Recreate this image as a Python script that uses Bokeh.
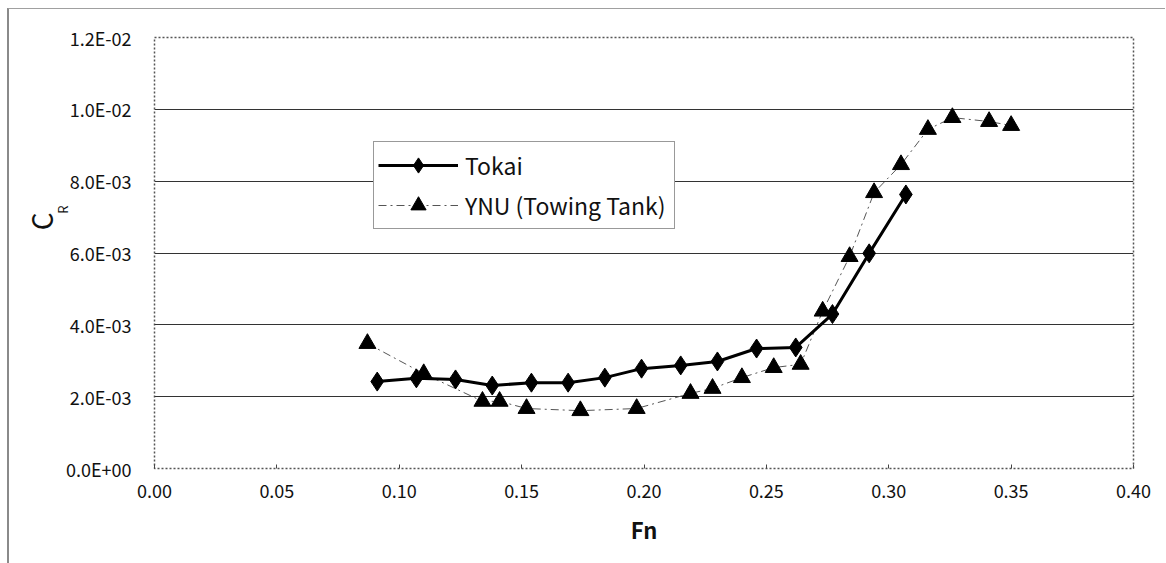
from bokeh.plotting import figure
from bokeh.models import Range1d, FixedTicker, Legend, LegendItem, Title
from bokeh.embed import file_html
from bokeh.resources import INLINE

# ---- data ----
tokai_fn = [0.091, 0.107, 0.123, 0.138, 0.154, 0.169, 0.184, 0.199, 0.215, 0.230, 0.246, 0.262, 0.277, 0.292, 0.307]
tokai_cr = [2.42e-3, 2.51e-3, 2.48e-3, 2.31e-3, 2.39e-3, 2.39e-3, 2.53e-3, 2.78e-3, 2.87e-3, 2.98e-3,
            3.34e-3, 3.37e-3, 4.30e-3, 5.99e-3, 7.63e-3]
ynu_fn = [0.087, 0.110, 0.134, 0.141, 0.152, 0.174, 0.197, 0.219, 0.228, 0.240, 0.253, 0.264,
          0.273, 0.284, 0.294, 0.305, 0.316, 0.326, 0.341, 0.350]
ynu_cr = [3.48e-3, 2.64e-3, 1.87e-3, 1.87e-3, 1.67e-3, 1.61e-3, 1.67e-3, 2.09e-3, 2.23e-3, 2.53e-3,
          2.81e-3, 2.90e-3, 4.38e-3, 5.90e-3, 7.68e-3, 8.46e-3, 9.44e-3, 9.77e-3, 9.66e-3, 9.55e-3]
x_ticks = [0.00, 0.05, 0.10, 0.15, 0.20, 0.25, 0.30, 0.35, 0.40]
x_tick_labels = ["0.00", "0.05", "0.10", "0.15", "0.20", "0.25", "0.30", "0.35", "0.40"]
y_ticks = [0.0, 0.002, 0.004, 0.006, 0.008, 0.010, 0.012]
y_tick_labels = ["0.0E+00", "2.0E-03", "4.0E-03", "6.0E-03", "8.0E-03", "1.0E-02", "1.2E-02"]

FONT = "Noto Sans CJK JP"

p = figure(width=1158, height=555, output_backend="svg", toolbar_location=None,
           x_range=Range1d(0, 0.40), y_range=Range1d(0, 0.012),
           min_border_left=145, min_border_right=34, min_border_top=28, min_border_bottom=96)
p.styles = {"margin-left": "7px", "margin-top": "8px",
            "border-left": "2px solid #8a8a8a", "border-top": "1px solid #a0a0a0"}

p.background_fill_color = "white"
p.border_fill_color = "white"
p.outline_line_color = "#555555"
p.outline_line_dash = "2 2"
p.outline_line_width = 1.5

p.xgrid.grid_line_color = None
p.ygrid.grid_line_color = "#333333"
p.ygrid.grid_line_width = 1

p.xaxis.ticker = FixedTicker(ticks=x_ticks)
p.xaxis.major_label_overrides = {t: l for t, l in zip(x_ticks, x_tick_labels)}
p.yaxis.ticker = FixedTicker(ticks=y_ticks)
p.yaxis.major_label_overrides = {t: l for t, l in zip(y_ticks, y_tick_labels)}

for ax in (p.xaxis, p.yaxis):
    ax.axis_line_color = None
    ax.minor_tick_line_color = None
    ax.major_label_text_font = FONT
    ax.major_label_text_font_size = "18px"
    ax.major_label_text_color = "#111111"

p.xaxis.major_tick_in = 4
p.xaxis.major_tick_out = 0
p.xaxis.major_tick_line_color = "#444444"
p.xaxis.major_label_standoff = 15
p.yaxis.major_tick_line_color = None
p.yaxis.major_tick_in = 0
p.yaxis.major_tick_out = 21
p.yaxis.major_label_standoff = 2
p.yaxis.major_label_text_align = "right"

p.xaxis.axis_label = "Fn"
p.xaxis.axis_label_text_font = FONT
p.xaxis.axis_label_text_font_size = "22px"
p.xaxis.axis_label_text_font_style = "bold"
p.xaxis.axis_label_text_color = "#111111"
p.xaxis.axis_label_standoff = 12

# Y axis label C_R built from two side titles (subscript R next to C)
t_r = Title(text="R", align="right", vertical_align="bottom", offset=168, standoff=-19,
            text_font=FONT, text_font_size="13px", text_font_style="normal", text_color="#111111")
t_c = Title(text="C", align="right", vertical_align="bottom", offset=175, standoff=0,
            text_font=FONT, text_font_size="28px", text_font_style="normal", text_color="#111111")
p.add_layout(t_r, "left")
p.add_layout(t_c, "left")

# YNU series
ynu_line = p.line(ynu_fn, ynu_cr, line_color="#555555", line_width=1, line_dash="8 4 2 4")
ynu_pts = p.scatter(ynu_fn, ynu_cr, marker="triangle", size=17, fill_color="black", line_color="black")

# Tokai series
tok_line = p.line(tokai_fn, tokai_cr, line_color="black", line_width=3)
tok_pts = p.scatter(tokai_fn, tokai_cr, marker="diamond", size=19,
                    fill_color="black", line_color="black")

legend = Legend(items=[LegendItem(label="Tokai", renderers=[tok_line, tok_pts]),
                       LegendItem(label="YNU (Towing Tank)", renderers=[ynu_line, ynu_pts])],
                location=(219, 239))
legend.label_text_font = FONT
legend.label_text_font_size = "23px"
legend.label_text_color = "#111111"
legend.glyph_width = 80
legend.glyph_height = 38
legend.label_height = 38
legend.label_width = 205
legend.label_standoff = 7
legend.padding = 4
legend.spacing = 2
legend.margin = 0
legend.border_line_color = "#333333"
legend.border_line_width = 1.5
legend.background_fill_color = "white"
legend.background_fill_alpha = 1.0
p.add_layout(legend, "center")

open("out.html", "w").write(file_html(p, INLINE))
